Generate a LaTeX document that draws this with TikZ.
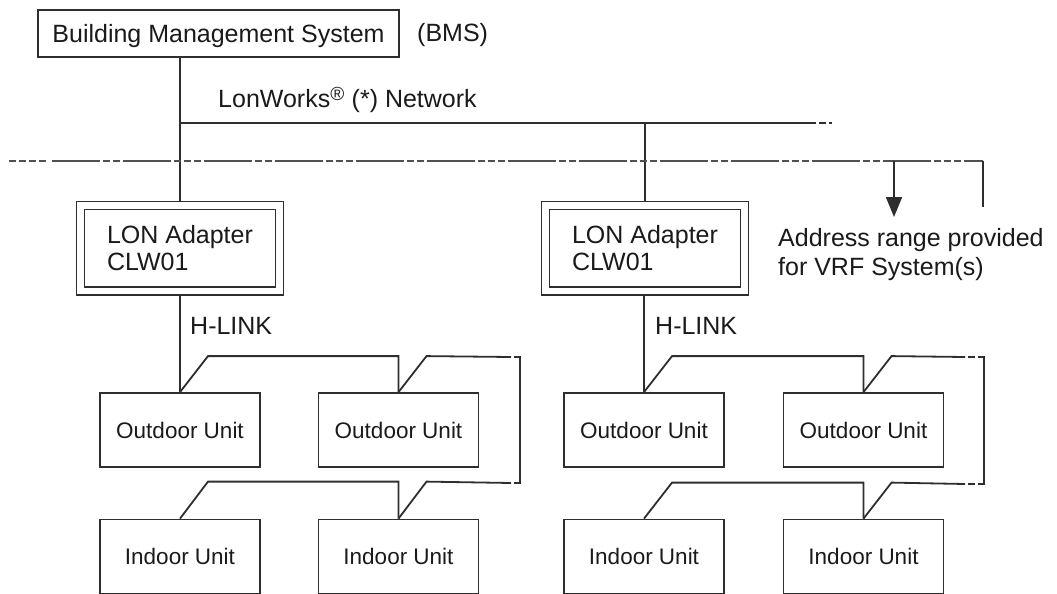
\documentclass[tikz,border=0pt]{standalone}
\usepackage{fontspec}
\setmainfont{Liberation Sans}
\usetikzlibrary{arrows.meta,calc}
\definecolor{ln}{HTML}{2E2E2E}
\definecolor{dl}{HTML}{505050}
\definecolor{txt}{HTML}{1A1A1A}
\begin{document}
\begin{tikzpicture}[x=1pt,y=-1pt,
  every node/.style={text=txt, font=\fontsize{25}{27}\selectfont, inner sep=0pt},
  wire/.style={draw=ln, line width=1.8pt},
  bmsbox/.style={draw=ln, line width=1.8pt, minimum width=361pt, minimum height=47pt, text height=18pt, text depth=0pt},
  lonbox/.style={draw=ln, line width=1.7pt, double, double distance=6.3pt, minimum width=199pt, minimum height=85.5pt, align=left},
  unitbox/.style={draw=ln, line width=1.8pt, minimum width=160pt, minimum height=74pt, text height=16.1pt, text depth=0pt, font=\fontsize{22.5}{27}\selectfont},
  lbl/.style={anchor=base west},
  netdash/.style={draw=dl, line width=1.8pt}
]
\useasboundingbox (0,0) rectangle (1057,594);

% nodes
\node[bmsbox] (bms) at (218.5,33.5) {Building Management System};
\node[lbl] (bmsl) at (417,42) {(BMS)};
\node[lbl] (lonw) at (218,107) {LonWorks\textsuperscript{\raisebox{-0.25ex}{\fontsize{19}{19}\selectfont\textregistered}} (*) Network};

\node[lonbox] (lon1) at (180,248.25) {LON Adapter\\CLW01};
\node[lonbox] (lon2) at (645,248.25) {LON Adapter\\CLW01};

\node[lbl] (hl1) at (190,334) {H-LINK};
\node[lbl] (hl2) at (655,334) {H-LINK};

\node[unitbox] (o1) at (180,430) {Outdoor Unit};
\node[unitbox] (o2) at (398.5,430) {Outdoor Unit};
\node[unitbox] (i1) at (180,556.5) {Indoor Unit};
\node[unitbox] (i2) at (398.5,556.5) {Indoor Unit};

\node[unitbox] (o3) at (644,430) {Outdoor Unit};
\node[unitbox] (o4) at (863.5,430) {Outdoor Unit};
\node[unitbox] (i3) at (644,556.5) {Indoor Unit};
\node[unitbox] (i4) at (863.5,556.5) {Indoor Unit};

\node[anchor=north west, align=left, font=\fontsize{25}{29}\selectfont] (addr) at (778,228) {Address range provided\\for VRF System(s)};

% LonWorks network
\coordinate (netL) at (180,123);
\coordinate (netE) at (816,123);
\draw[wire, shorten >=4pt] (lon1.north |- bms.south) -- (lon1.north);
\draw[wire] (netL) -- (netE);
\draw[wire] (819,123) -- (826,123);
\draw[wire] (829,123) -- (832,123);
\draw[wire, shorten >=4pt] (lon2.north |- netL) -- (lon2.north);

% address range dashed line
\coordinate (dS) at (52,161);
\coordinate (dE) at (983,161);
\coordinate (dD) at (983,207);
\coordinate (aS) at (894,161);
\coordinate (aE) at (894,217);
\draw[netdash, dash pattern=on 7pt off 3pt] (9,161) -- (48,161);
\draw[netdash, dash pattern=on 48pt off 3pt on 7pt off 3pt on 7pt off 3pt on 48pt off 3pt on 7pt off 3pt on 7pt off 3pt on 7pt off 3pt] (dS) -- (dE);
\draw[wire] (dE) -- (dD);
\draw[wire, -{Triangle[length=20pt,width=16pt]}] (aS) -- (aE);

% H-LINK left group
\draw[wire, shorten <=4pt] (lon1.south) -- (o1.north);
\draw[wire] (o1.north) -- ++(28,-36) -| (o2.north);
\draw[wire] (o2.north) -- ++(28,-36) -- (511,357);
\draw[wire] (514,357) -- (520,357) -- (520,483) -- (514,483);
\draw[wire] (511,483) -- ($(i2.north)+(28,-37)$) -- (i2.north);
\draw[wire] (i2.north) -- ++(0,-37) -- ($(i1.north)+(28,-37)$) -- (i1.north);

% H-LINK right group
\draw[wire, shorten <=4pt] (lon2.south -| o3.north) -- (o3.north);
\draw[wire] (o3.north) -- ++(28,-36) -| (o4.north);
\draw[wire] (o4.north) -- ++(28,-36) -- (965,357);
\draw[wire] (968,357) -- (975,357);
\draw[wire] (978,357) -- (984,357) -- (984,484) -- (978,484);
\draw[wire] (975,484) -- (968,484);
\draw[wire] (965,484) -- ($(i4.north)+(28,-36)$) -- (i4.north);
\draw[wire] (i4.north) -- ++(0,-36) -- ($(i3.north)+(28,-36)$) -- (i3.north);
\end{tikzpicture}
\end{document}
